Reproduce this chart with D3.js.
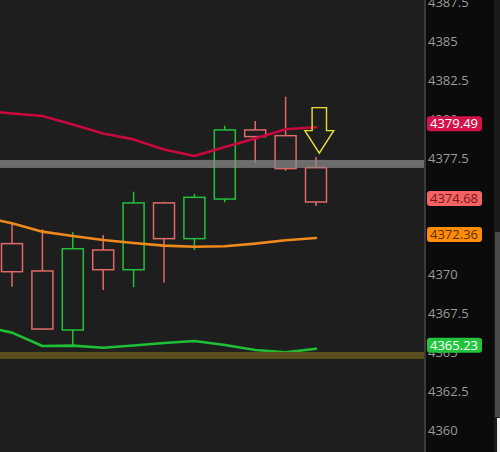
<!DOCTYPE html>
<html>
<head>
<meta charset="utf-8">
<script src="https://cdn.jsdelivr.net/npm/d3@7"></script>
<style>
  html, body { margin: 0; padding: 0; background: #1e1e1e; }
  svg { display: block; }
</style>
</head>
<body>
<svg id="chart"></svg>
<script>
// candle data (index 0..10)
const opens  = [4372.00, 4370.24, 4366.44, 4371.59, 4370.32, 4374.62, 4372.32, 4374.87, 4379.32, 4378.95, 4376.89];
const highs  = [4373.33, 4372.92, 4372.73, 4372.56, 4375.34, 4374.70, 4375.20, 4379.59, 4379.90, 4381.46, 4377.60];
const lows   = [4369.23, 4366.45, 4365.43, 4369.01, 4369.19, 4369.49, 4371.59, 4374.66, 4377.17, 4376.68, 4374.42];
const closes = [4370.19, 4366.50, 4371.67, 4370.32, 4374.62, 4372.32, 4374.98, 4379.32, 4378.89, 4376.83, 4374.68];

// moving averages, index -1..10
const maIndex  = [-1, 0, 1, 2, 3, 4, 5, 6, 7, 8, 9, 10];
const maRed    = [4380.57, 4380.38, 4380.22, 4379.67, 4379.09, 4378.71, 4378.06, 4377.64, 4378.22, 4378.77, 4379.36, 4379.49];
const maOrange = [4373.72, 4373.31, 4372.77, 4372.49, 4372.23, 4372.04, 4371.87, 4371.80, 4371.83, 4372.00, 4372.22, 4372.36];
const maGreen  = [4366.70, 4366.27, 4365.41, 4365.43, 4365.30, 4365.44, 4365.60, 4365.73, 4365.47, 4365.15, 4365.00, 4365.23];

// horizontal levels
const bandLevels = [4377.13, 4364.80];

// price axis ticks
const tickValues = [4360, 4362.5, 4365, 4367.5, 4370, 4372.5, 4375, 4377.5, 4380, 4382.5, 4385, 4387.5];

// arrow annotation: candle index and tip price
const arrowAt = { i: 10, price: 4377.82 };

const W = 500, H = 452, PLOT_R = 424, AXIS_W = 76;
const BG = '#1e1e1e', AXIS_BG = '#0b0b0b';
const UP = '#22c03c', DOWN = '#e06a68';

const svg = d3.select('#chart').attr('width', W).attr('height', H);

const x = d3.scaleLinear().domain([0, 10]).range([12, 316]);
const y = d3.scaleLinear().domain([4360, 4385]).range([430, 41.7]);

svg.append('rect').attr('width', W).attr('height', H).attr('fill', BG);

const plot = svg.append('g');

// candles
const candles = d3.range(opens.length).map(i => ({
	i, o: opens[i], h: highs[i], l: lows[i], c: closes[i]
}));
const bodyW = 21;

const cg = plot.selectAll('g.candle').data(candles).enter().append('g')
	.attr('class', 'candle')
	.attr('stroke', d => d.c >= d.o ? UP : DOWN)
	.attr('stroke-width', 1.5)
	.attr('fill', BG);
cg.append('line')
	.attr('x1', d => x(d.i)).attr('x2', d => x(d.i))
	.attr('y1', d => y(d.h)).attr('y2', d => y(d.l));
cg.append('rect')
	.attr('x', d => x(d.i) - bodyW / 2)
	.attr('width', bodyW)
	.attr('y', d => y(Math.max(d.o, d.c)))
	.attr('height', d => Math.max(1, y(Math.min(d.o, d.c)) - y(Math.max(d.o, d.c))));

// moving averages
const line = d3.line().x(d => x(d[0])).y(d => y(d[1]));
[[maOrange, '#f0891c'], [maGreen, '#1fbf36'], [maRed, '#c8083f']].forEach(([vals, col]) => {
	plot.append('path')
		.datum(maIndex.map((k, j) => [k, vals[j]]))
		.attr('d', line)
		.attr('fill', 'none')
		.attr('stroke', col)
		.attr('stroke-width', 2.6)
		.attr('stroke-linejoin', 'round')
		.attr('stroke-linecap', 'round');
});

// levels
plot.append('rect')
	.attr('x', 0).attr('width', PLOT_R)
	.attr('y', y(bandLevels[0]) - 4).attr('height', 8)
	.attr('fill', '#8c8c8c').attr('opacity', 0.72);
plot.append('rect')
	.attr('x', 0).attr('width', PLOT_R)
	.attr('y', y(bandLevels[1]) - 3.5).attr('height', 7)
	.attr('fill', '#5b4e1e');

// arrow
const ax = x(arrowAt.i) + 3.3, ay = y(arrowAt.price);
const arrowPts = [[-7.2, -45.6], [7.2, -45.6], [7.2, -22.6], [14.4, -22.6], [0, 0], [-14.4, -22.6], [-7.2, -22.6]];
plot.append('path')
	.attr('d', 'M' + arrowPts.map(p => [ax + p[0], ay + p[1]].join(',')).join('L') + 'Z')
	.attr('fill', 'none')
	.attr('stroke', '#e8e236')
	.attr('stroke-width', 1.4)
	.attr('stroke-linejoin', 'miter');

// price axis panel
const axis = svg.append('g');
axis.append('rect').attr('x', PLOT_R).attr('y', 0).attr('width', AXIS_W).attr('height', H).attr('fill', AXIS_BG);
axis.append('rect').attr('x', PLOT_R).attr('y', 0).attr('width', 2).attr('height', H).attr('fill', '#3a3a3a');
// scrollbar strip at the far right
axis.append('rect').attr('x', 494).attr('y', 0).attr('width', 6).attr('height', H).attr('fill', '#1a1a1a');
axis.append('rect').attr('x', 495).attr('y', 232).attr('width', 5).attr('height', 185).attr('fill', '#4a4a4a');
axis.append('rect').attr('x', 497).attr('y', 418).attr('width', 3).attr('height', 34).attr('fill', '#f0f0f0');

axis.selectAll('text.tick').data(tickValues).enter().append('text')
	.attr('class', 'tick')
	.attr('x', 428)
	.attr('y', d => y(d))
	.attr('dy', '0.35em')
	.attr('fill', '#9a9a9a')
	.attr('font-family', '"Open Sans", "Noto Sans", sans-serif')
	.attr('font-size', 13)
	.text(d => d3.format('')(d));

// last value tags
const tags = [
	{ v: maRed[maRed.length - 1], fill: '#d3124a', text: '#ffffff' },
	{ v: closes[closes.length - 1], fill: '#f26464', text: '#7a1616' },
	{ v: maOrange[maOrange.length - 1], fill: '#ff8c0a', text: '#5a3000' },
	{ v: maGreen[maGreen.length - 1], fill: '#22c43c', text: '#ffffff' }
];
const tg = axis.selectAll('g.tag').data(tags).enter().append('g').attr('class', 'tag')
	.attr('transform', d => `translate(427,${y(d.v) - 3.5})`);
tg.append('rect')
	.attr('x', 0).attr('y', -7.5).attr('width', 55).attr('height', 15).attr('rx', 3)
	.attr('fill', d => d.fill);
tg.append('text')
	.attr('x', 3).attr('dy', '0.36em')
	.attr('fill', d => d.text)
	.attr('font-family', '"Open Sans", "Noto Sans", sans-serif')
	.attr('font-size', 13)
	.text(d => d.v.toFixed(2));
</script>
</body>
</html>
